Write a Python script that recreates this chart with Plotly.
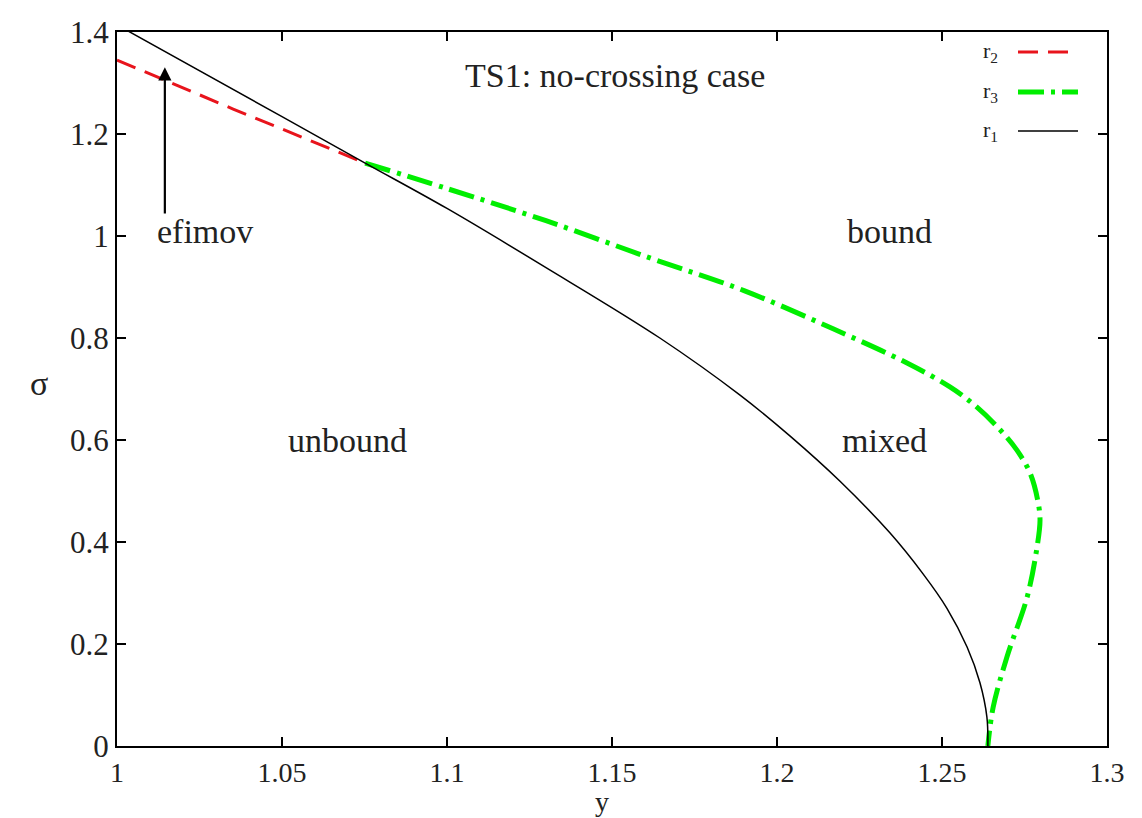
import plotly.graph_objects as go

# r1 (black solid)
r1_y = [1.0, 1.05, 1.0752, 1.1, 1.13, 1.1645, 1.1888, 1.2039, 1.2191, 1.2342, 1.2442, 1.2515, 1.2576, 1.2615, 1.2636, 1.2639]
r1_s = [1.414, 1.234, 1.143, 1.054, 0.938, 0.800, 0.688, 0.608, 0.519, 0.418, 0.338, 0.270, 0.194, 0.124, 0.057, 0.0]

# r2 (red dashed)
r2_y = [1.0, 1.0352, 1.0752]
r2_s = [1.345, 1.249, 1.143]

# r3 (green dash-dot)
r3_y = [1.0752, 1.1, 1.13, 1.1615, 1.19, 1.217, 1.2394, 1.2524, 1.2605, 1.2676, 1.2727, 1.2767, 1.279, 1.2797, 1.2788, 1.2758, 1.2697, 1.2655, 1.2639]
r3_s = [1.143, 1.093, 1.030, 0.957, 0.893, 0.818, 0.751, 0.704, 0.665, 0.620, 0.580, 0.535, 0.482, 0.443, 0.390, 0.292, 0.175, 0.076, 0.0]

x_ticks = [1.0, 1.05, 1.1, 1.15, 1.2, 1.25, 1.3]
x_tick_labels = ["1", "1.05", "1.1", "1.15", "1.2", "1.25", "1.3"]
y_ticks = [0, 0.2, 0.4, 0.6, 0.8, 1.0, 1.2, 1.4]
y_tick_labels = ["0", "0.2", "0.4", "0.6", "0.8", "1", "1.2", "1.4"]

region_labels = ["TS1: no-crossing case", "efimov", "bound", "unbound", "mixed"]
region_x = [1.151, 1.0267, 1.234, 1.0697, 1.2327]
region_s = [1.314, 1.008, 1.008, 0.600, 0.600]

FONT = "Liberation Serif, Times New Roman, serif"

fig = go.Figure()
fig.add_trace(go.Scatter(x=r2_y, y=r2_s, mode="lines", name="r2",
                         line=dict(color="#e8141c", width=3, dash="20px,10px")))
fig.add_trace(go.Scatter(x=r3_y, y=r3_s, mode="lines", name="r3", line_shape="spline",
                         line=dict(color="#00ee00", width=5, dash="26px,7px,4px,7px")))
fig.add_trace(go.Scatter(x=r1_y, y=r1_s, mode="lines", name="r1", line_shape="spline",
                         line=dict(color="black", width=1.5)))

annotations = []
for t, xx, ss in zip(region_labels, region_x, region_s):
    annotations.append(dict(x=xx, y=ss, xref="x", yref="y", text=t, showarrow=False,
                            font=dict(family=FONT, size=34, color="#222")))

# efimov arrow
annotations.append(dict(x=1.0145, y=1.331, xref="x", yref="y", ax=1.0145, ay=1.041,
                        axref="x", ayref="y", text="", showarrow=True, arrowhead=2,
                        arrowsize=1.2, arrowwidth=2.2, arrowcolor="black"))

# axis titles
annotations.append(dict(x=0.5, y=0, xref="paper", yref="paper", text="y", showarrow=False,
                        yanchor="middle", yshift=-55, xshift=-10,
                        font=dict(family=FONT, size=28, color="#222")))
annotations.append(dict(x=0, y=0.5, xref="paper", yref="paper", text="σ", showarrow=False,
                        xshift=-89, yshift=6, font=dict(family=FONT, size=34, color="#222")))

# gnuplot-style legend (text left of sample)
leg_names = ["r<sub>2</sub>", "r<sub>3</sub>", "r<sub>1</sub>"]
leg_colors = ["#e8141c", "#00ee00", "black"]
leg_widths = [3, 5, 1.5]
leg_dash = ["20px,10px", "26px,7px,4px,7px", "solid"]
leg_ypx = [52, 92, 131]
shapes = []
for name, col, w, d, ypx in zip(leg_names, leg_colors, leg_widths, leg_dash, leg_ypx):
    yp = (746 - ypx) / 714
    x0 = (1018 - 117) / 990
    x1 = (1078 - 117) / 990
    shapes.append(dict(type="line", xref="paper", yref="paper", x0=x0, x1=x1, y0=yp, y1=yp,
                       line=dict(color=col, width=w, dash=d)))
    annotations.append(dict(x=(1000 - 117) / 990, y=yp, xref="paper", yref="paper", text=name,
                            showarrow=False, xanchor="right", yanchor="middle",
                            font=dict(family=FONT, size=22, color="#222")))

fig.update_layout(
    width=1142, height=818,
    margin=dict(l=117, r=35, t=32, b=72),
    paper_bgcolor="white", plot_bgcolor="white",
    showlegend=False,
    annotations=annotations,
    shapes=shapes,
    font=dict(family=FONT, size=28, color="#222"),
)
fig.update_xaxes(range=[1.0, 1.3], tickmode="array", tickvals=x_ticks, ticktext=x_tick_labels,
                 ticks="inside", ticklen=9, tickwidth=1.5, tickcolor="black",
                 showline=True, linecolor="black", linewidth=2, mirror="ticks",
                 showgrid=False, zeroline=False, tickfont=dict(family=FONT, size=28))
fig.update_yaxes(range=[0, 1.4], tickmode="array", tickvals=y_ticks, ticktext=y_tick_labels,
                 ticks="inside", ticklen=9, tickwidth=1.5, tickcolor="black",
                 showline=True, linecolor="black", linewidth=2, mirror="ticks",
                 showgrid=False, zeroline=False, tickfont=dict(family=FONT, size=31))

fig.write_html("out.html")
